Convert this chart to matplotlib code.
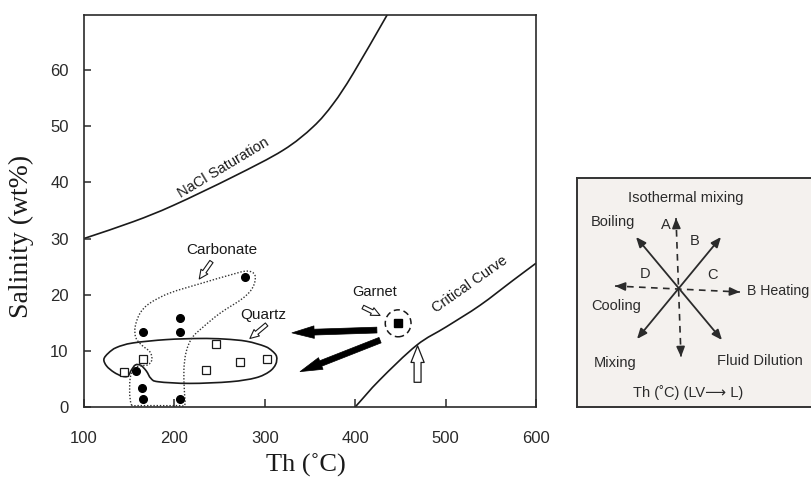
import numpy as np
import matplotlib
matplotlib.use("Agg")
import matplotlib.pyplot as plt
from matplotlib.path import Path
from matplotlib.patches import PathPatch, Ellipse

# ---------------- data ----------------
# Fluid inclusion homogenisation temperature (Th, degC) and salinity (wt% NaCl eq.)
carbonate_th = [278, 206, 206, 165, 157.5, 164, 165, 206]
carbonate_sal = [23.2, 15.9, 13.3, 13.3, 6.4, 3.4, 1.5, 1.5]

quartz_th = [144.5, 165.5, 246.5, 235.5, 273, 302]
quartz_sal = [6.3, 8.5, 11.2, 6.5, 8.1, 8.5]

garnet_th = [447.5]
garnet_sal = [14.9]

# NaCl saturation and critical curves
nacl_th = [100, 154.5, 198.8, 265, 320, 353.5, 375.7, 397.8, 436]
nacl_sal = [30, 33.0, 35.9, 41.0, 45.7, 49.9, 54.0, 59.4, 70]

crit_th = [400, 427, 468, 501, 538, 575, 600]
crit_sal = [0, 4.8, 11.0, 14.3, 18.1, 22.6, 25.6]

# field outlines
quartz_field_th = [122, 127, 136, 154, 191, 228, 255, 280, 300, 308, 313, 312,
                   305, 290, 262, 217, 182, 174, 169, 163, 157, 152.5, 148.5,
                   142, 133, 125]
quartz_field_sal = [8.5, 9.6, 10.6, 11.4, 12.0, 12.2, 12.1, 11.7, 10.8, 10.0,
                    9.0, 7.6, 6.3, 5.2, 4.5, 4.2, 4.5, 5.1, 6.4, 7.4, 7.5,
                    6.6, 5.5, 5.5, 6.2, 7.3]

carb_field_th = [153, 151, 150.5, 151, 154, 161, 170.5, 175, 173, 164, 157.5,
                 156.5, 162, 173, 195, 231.5, 261.5, 280, 289, 287, 276,
                 250.5, 231.5, 219.5, 213, 210.5, 211, 211.5, 205, 180, 160]
carb_field_sal = [0.3, 1.5, 3.0, 5.0, 6.6, 7.3, 7.5, 8.4, 9.8, 11.0, 12.3,
                  14.2, 16.7, 18.5, 20.3, 22.1, 23.5, 24.2, 23.5, 21.4, 19.4,
                  16.7, 14.2, 12.3, 9.8, 6.6, 3.0, 0.4, 0.25, 0.25, 0.25]

x_ticks = [100, 200, 300, 400, 500, 600]
y_ticks = [0, 10, 20, 30, 40, 50, 60]

SANS = ["Liberation Sans", "DejaVu Sans"]
SERIF = ["Liberation Serif", "DejaVu Serif"]
INK = "#1a1a1a"


def catmull_rom_path(xs, ys, closed=False):
    """Smooth Bezier path passing through the given vertices."""
    pts = np.column_stack([xs, ys]).astype(float)
    n = len(pts)
    if closed:
        ext = np.vstack([pts[-1], pts, pts[0], pts[1]])
        segs = n
    else:
        ext = np.vstack([2 * pts[0] - pts[1], pts, 2 * pts[-1] - pts[-2]])
        segs = n - 1
    verts = [ext[1]]
    codes = [Path.MOVETO]
    for i in range(segs):
        p0, p1, p2, p3 = ext[i], ext[i + 1], ext[i + 2], ext[i + 3]
        c1 = p1 + (p2 - p0) / 6.0
        c2 = p2 - (p3 - p1) / 6.0
        verts += [c1, c2, p2]
        codes += [Path.CURVE4] * 3
    if closed:
        verts.append(ext[1])
        codes.append(Path.CLOSEPOLY)
    return Path(verts, codes)


fig = plt.figure(figsize=(8.12, 4.82), dpi=100)
ax = fig.add_axes([84 / 812, 75 / 482, 452 / 812, 392 / 482])

ax.set_xlim(100, 600)
ax.set_ylim(0, 69.8)
for s in ax.spines.values():
    s.set_linewidth(1.2)
    s.set_color("#2a2a2a")

ax.set_xticks(x_ticks)
ax.set_yticks(y_ticks)
ax.tick_params(axis="x", direction="in", length=6, width=1.1, pad=17,
               labelsize=12, colors="#2a2a2a")
ax.tick_params(axis="y", direction="in", length=5, width=1.1, pad=11,
               labelsize=12, colors="#2a2a2a")
for lab in ax.get_xticklabels() + ax.get_yticklabels():
    lab.set_family(SANS)

ax.set_xlabel("Th (˚C)", family=SERIF, fontsize=19, color=INK)
ax.set_ylabel("Salinity (wt%)", family=SERIF, fontsize=20, color=INK)
ax.xaxis.set_label_coords(0.49, -0.12)
ax.yaxis.set_label_coords(-0.11, 0.435)

# phase boundaries
ax.add_patch(PathPatch(catmull_rom_path(nacl_th, nacl_sal), fill=False,
                       lw=1.2, ec=INK, clip_on=True))
ax.add_patch(PathPatch(catmull_rom_path(crit_th, crit_sal), fill=False,
                       lw=1.2, ec=INK))
ax.text(254, 42.6, "NaCl Saturation", rotation=31, ha="center", va="center",
        family=SANS, fontsize=10.5, color=INK)
ax.text(527, 21.8, "Critical Curve", rotation=35, ha="center", va="center",
        family=SANS, fontsize=10.5, color=INK)

# fields
ax.add_patch(PathPatch(catmull_rom_path(quartz_field_th, quartz_field_sal, closed=True),
                       fill=False, lw=1.2, ec=INK))
ax.add_patch(PathPatch(catmull_rom_path(carb_field_th, carb_field_sal, closed=True),
                       fill=False, lw=1.0, ec="#333333", linestyle=(0, (1, 1.3))))

# inclusion data
ax.plot(carbonate_th, carbonate_sal, "o", ms=5.5, mfc="black", mec="black",
        ls="none", zorder=5)
ax.plot(quartz_th, quartz_sal, "s", ms=5.5, mfc="white", mec=INK, mew=0.9,
        ls="none", zorder=5)
ax.plot(garnet_th, garnet_sal, "s", ms=5.5, mfc="black", mec="black",
        ls="none", zorder=5)
ax.add_patch(Ellipse((garnet_th[0], garnet_sal[0]), 28.5, 4.8, fill=False,
                     lw=1.1, ec=INK, linestyle=(0, (4, 2.5))))

# labels with hollow pointers
hollow_small = dict(arrowstyle="simple,head_length=0.8,head_width=0.75,tail_width=0.35",
                    fc="white", ec=INK, lw=0.8, mutation_scale=8,
                    shrinkA=0, shrinkB=0)
ax.text(252, 27.9, "Carbonate", ha="center", va="center", family=SANS,
        fontsize=11, color=INK)
ax.annotate("", xy=(227.5, 22.8), xytext=(241, 25.9), arrowprops=hollow_small)
ax.text(298, 16.4, "Quartz", ha="center", va="center", family=SANS,
        fontsize=11, color=INK)
ax.annotate("", xy=(283.5, 12.2), xytext=(302, 14.7), arrowprops=hollow_small)
ax.text(421, 20.4, "Garnet", ha="center", va="center", family=SANS,
        fontsize=10.5, color=INK)
ax.annotate("", xy=(427.5, 16.3), xytext=(408.5, 17.8), arrowprops=hollow_small)

# critical point pointer
ax.annotate("", xy=(469, 10.9), xytext=(469, 4.4),
            arrowprops=dict(arrowstyle="simple,head_length=1.2,head_width=0.95,tail_width=0.5",
                            fc="white", ec=INK, lw=0.9, mutation_scale=10,
                            shrinkA=0, shrinkB=0))

# fluid evolution paths out of the garnet stage
thick = dict(arrowstyle="simple,head_length=1.6,head_width=0.9,tail_width=0.42",
             fc="black", ec="black", lw=0.5, mutation_scale=10,
             shrinkA=0, shrinkB=0)
ax.annotate("", xy=(330, 13.2), xytext=(424, 13.7), arrowprops=thick)
ax.annotate("", xy=(339, 6.3), xytext=(427.5, 11.9), arrowprops=thick)

# ---------------- process diagram ----------------
iax = fig.add_axes([577 / 812, 75 / 482, 243 / 812, 229 / 482])
iax.set_xlim(0, 243)
iax.set_ylim(229, 0)
iax.set_xticks([])
iax.set_yticks([])
iax.set_facecolor("#f4f1ee")
for s in iax.spines.values():
    s.set_linewidth(1.4)
    s.set_color("#333333")

OX, OY = 577, 178  # inset origin in figure pixels


def P(x, y):
    return (x - OX, y - OY)


dark = "#2b2b2b"
both = dict(arrowstyle="<|-|>,head_length=0.6,head_width=0.25", color=dark,
            lw=1.3, mutation_scale=10, shrinkA=0, shrinkB=0)
iax.annotate("", xy=P(636, 237), xytext=P(722, 340), arrowprops=both)
iax.annotate("", xy=P(721, 237), xytext=P(637, 339), arrowprops=both)

# dashed axes with solid heads
head = dict(arrowstyle="-|>,head_length=0.6,head_width=0.25", color=dark,
            lw=1.2, mutation_scale=10, shrinkA=0, shrinkB=0)
for (x0, y0), (x1, y1) in [((676, 218), (681, 357)), ((615, 286), (740, 292))]:
    a, b = P(x0, y0), P(x1, y1)
    iax.plot([a[0], b[0]], [a[1], b[1]], color=dark, lw=1.2, dashes=(4, 3.2))
    d = np.array(b) - np.array(a)
    d = d / np.hypot(*d) * 7
    iax.annotate("", xy=b, xytext=(b[0] - d[0], b[1] - d[1]), arrowprops=head)
    iax.annotate("", xy=a, xytext=(a[0] + d[0], a[1] + d[1]), arrowprops=head)

itext = dict(family=SANS, fontsize=10.5, color=dark, va="center")
iax.text(*P(686, 198), "Isothermal mixing", ha="center", **itext)
iax.text(*P(613, 222), "Boiling", ha="center", **itext)
iax.text(*P(666, 225), "A", ha="center", **itext)
iax.text(*P(695, 241), "B", ha="center", **itext)
iax.text(*P(645, 274), "D", ha="center", **itext)
iax.text(*P(712, 275), "C", ha="center", **itext)
iax.text(*P(747, 291), "B Heating", ha="left", family=SANS, fontsize=10.2,
         color=dark, va="center")
iax.text(*P(616, 306), "Cooling", ha="center", **itext)
iax.text(*P(615, 363), "Mixing", ha="center", **itext)
iax.text(*P(760, 361), "Fluid Dilution", ha="center", **itext)
iax.text(*P(688, 393), "Th (˚C) (LV⟶ L)", ha="center", **itext)

fig.savefig("out.png", dpi=100)
